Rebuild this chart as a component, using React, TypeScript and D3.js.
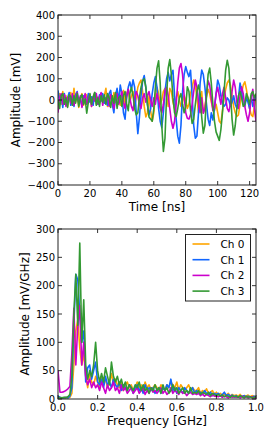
import React from "react";
import * as d3 from "d3";

// ---------- DATA ----------
const timeNs = d3.range(0, 125); // 0..124 ns
const ch0Time = [
  10, 30, -20, 40, -10, 20, -30, 15, 35, -20,
  55, -10, 20, -35, 10, 30, -25, 5, 25, -15,
  20, -30, 10, 35, -20, 15, -10, 30, 0, 20,
  55, -30, 10, 25, -20, 35, -10, 40, 10, -25,
  20, 45, -20, 30, 50, -10, 20, 40, -30, 10,
  60, 80, 94, 40, -30, -80, -60, 20, -50, -100,
  -60, 20, 60, 30, -20, 0, 40, 55, 20, -30,
  55, 40, -10, -40, 10, 40, 0, -30, -10, 20,
  0, -40, -20, 30, 60, 94, 70, 10, -60, -30,
  40, -62, -30, 20, 50, 30, -10, -40, -50, -20,
  -60, -100, -110, -50, 10, 50, 80, 94, 70, 20,
  -30, -60, -78, -70, -20, 30, 70, 86, 50, 0,
  -40, -70, -78, -30, 20,
];
const ch1Time = [
  45, -10, 20, -35, 30, -20, 10, 35, -25, 15,
  -30, 25, 40, -15, 5, -30, 20, 10, -20, 30,
  -10, 15, -25, 35, 0, -20, 25, -5, 30, -15,
  10, -25, 30, 45, -20, -60, 20, 55, -10, 70,
  30, -60, -90, 10, 60, 85, 50, 95, 60, -60,
  -158, -80, 20, 90, 115, 60, -20, -70, -40, 30,
  80, 110, 60, -40, -100, -130, -60, 40, 100, 130,
  90, 120, 140, 20, -90, -170, -203, -120, 40, 120,
  157, 130, 110, 140, 20, -120, -180, -170, -60, 80,
  141, 120, 60, -20, -90, -120, -60, -94, -40, 30,
  94, 70, 20, -10, -30, -20, 10, 0, -30, -10,
  20, -20, -40, 10, 80, 40, -20, -30, 10, -10,
  -40, 20, -30, 0, 20,
];
const ch2Time = [
  -60, 10, 30, -20, 25, -30, 10, 20, -15, 30,
  -25, 15, 35, -10, 20, -35, 5, 30, -20, 10,
  25, -30, 15, -5, 30, -20, 10, 35, -25, 15,
  -10, 20, -30, 25, 0, -40, 15, 30, -20, 10,
  40, -10, -40, 20, 50, 10, -30, -50, 10, 40,
  20, -20, -40, 10, 30, -10, 20, 40, 0, -30,
  10, -20, 30, 0, -40, -60, -20, 40, 60, 20,
  -40, -100, -133, -100, -20, 80, 150, 172, 120, 20,
  -60, -86, -90, -70, -20, 40, 94, 60, -10, -60,
  10, -62, -40, 20, 90, 70, 10, -50, -30, 30,
  60, 20, -20, 30, 60, 10, -40, -55, -20, 40,
  94, 60, -10, -40, 20, 62, 30, -30, -70, -100,
  -60, 10, 50, -40, -100,
];
const ch3Time = [
  0, -40, 20, 30, -20, 10, -35, 25, 15, -25,
  20, -15, 30, -30, 10, 25, -20, 5, -62, -10,
  30, -20, 15, 35, -25, 10, -30, 20, -10, 25,
  -20, 30, 10, -35, 20, -15, 35, -40, 10, 20,
  -30, 20, 40, -20, -50, 30, 60, 20, -40, -70,
  -60, 10, 60, 90, 100, 60, -20, -80, -90, -100,
  -40, 60, 150, 184, 80, -120, -242, -180, 20, 150,
  190, 120, 10, -60, -78, -40, 10, 30, -20, -60,
  -30, 62, 40, -50, -110, -90, -20, 40, 70, 30,
  -80, -156, -120, 20, 120, 150, 80, -20, -100, -150,
  -170, -190, -140, -60, 40, 140, 187, 150, 40, -90,
  -165, -120, -40, 20, 40, 10, -30, -20, 30, 10,
  -20, 30, 40, 10, 30,
];

const freqGHz = d3.range(0, 101).map((i) => i / 100);
const ch0Spec = [
  2, 3, 1, 2, 3, 2, 3, 10, 60, 120,
  140, 90, 60, 80, 40, 20, 45, 30, 25, 40,
  30, 20, 40, 25, 35, 20, 30, 45, 25, 35,
  25, 20, 30, 15, 25, 30, 20, 25, 15, 20,
  30, 20, 25, 15, 30, 20, 25, 15, 20, 25,
  20, 15, 25, 20, 15, 25, 20, 30, 25, 20,
  30, 15, 25, 20, 15, 20, 25, 15, 20, 15,
  15, 20, 10, 15, 12, 18, 10, 12, 15, 8,
  12, 8, 10, 6, 9, 7, 10, 5, 8, 6,
  7, 5, 8, 4, 6, 5, 7, 4, 6, 5, 3,
];
const ch1Spec = [
  5, 3, 2, 2, 3, 2, 5, 20, 130, 220,
  210, 150, 100, 120, 30, 55, 60, 35, 50, 65,
  30, 25, 35, 20, 40, 25, 30, 20, 35, 25,
  20, 30, 15, 25, 20, 15, 25, 20, 10, 20,
  25, 15, 20, 10, 25, 15, 20, 15, 20, 10,
  15, 20, 10, 20, 15, 25, 20, 35, 15, 20,
  10, 20, 15, 10, 20, 15, 10, 15, 20, 10,
  15, 10, 12, 8, 15, 10, 8, 12, 6, 10,
  8, 10, 5, 8, 12, 6, 8, 5, 7, 4,
  6, 3, 5, 4, 6, 3, 5, 4, 3, 5, 2,
];
const ch2Spec = [
  50, 12, 12, 13, 15, 18, 22, 80, 160, 60,
  130, 165, 60, 100, 40, 25, 35, 20, 30, 20,
  25, 15, 30, 20, 10, 25, 15, 20, 30, 15,
  20, 10, 25, 15, 20, 10, 15, 20, 10, 15,
  20, 10, 15, 20, 8, 15, 10, 20, 12, 15,
  10, 15, 20, 10, 15, 8, 12, 20, 10, 15,
  12, 8, 15, 10, 12, 6, 10, 12, 8, 10,
  8, 10, 6, 9, 5, 8, 6, 4, 7, 5,
  5, 4, 6, 3, 5, 4, 2, 5, 3, 4,
  3, 4, 2, 5, 3, 4, 2, 3, 4, 2, 3,
];
const ch3Spec = [
  3, 2, 2, 3, 2, 4, 8, 40, 150, 220,
  130, 275, 100, 175, 60, 35, 50, 40, 60, 100,
  50, 30, 45, 30, 55, 40, 25, 65, 40, 30,
  40, 25, 35, 20, 30, 15, 25, 20, 15, 25,
  20, 30, 15, 25, 15, 20, 10, 20, 15, 25,
  15, 20, 10, 25, 15, 20, 10, 15, 25, 15,
  20, 10, 15, 20, 10, 15, 10, 20, 10, 12,
  10, 15, 8, 12, 10, 8, 12, 6, 10, 8,
  6, 8, 5, 7, 4, 6, 5, 3, 6, 4,
  5, 3, 6, 4, 2, 5, 3, 4, 2, 3, 4,
];

const channelNames = ["Ch 0", "Ch 1", "Ch 2", "Ch 3"];
const channelColors = ["#ffa500", "#1166ff", "#cc00cc", "#339933"];
const timeSeries = [ch0Time, ch1Time, ch2Time, ch3Time];
const specSeries = [ch0Spec, ch1Spec, ch2Spec, ch3Spec];

const timeTicks = [0, 20, 40, 60, 80, 100, 120];
const mvTicks = [-400, -300, -200, -100, 0, 100, 200, 300, 400];
const freqTicks = [0, 0.2, 0.4, 0.6, 0.8, 1.0];
const specTicks = [0, 50, 100, 150, 200, 250, 300];

// ---------- LAYOUT ----------
const W = 274;
const H = 439;
const FONT = "'DejaVu Sans', sans-serif";
const X0 = 58;
const X1 = 256;
const TOP = { y0: 15, y1: 185 };
const BOT = { y0: 229, y1: 399 };
const TICK = 4;

const fmtMinus = (s: string) => s.replace("-", "\u2212");

function Frame({ x, y, xTicks, yTicks, xFmt, yFmt, y0, y1 }: any) {
  return (
    <g>
      {xTicks.map((t: number) => (
        <g key={"x" + t}>
          <line x1={x(t)} x2={x(t)} y1={y1} y2={y1 - TICK} stroke="#000" strokeWidth={0.8} />
          <line x1={x(t)} x2={x(t)} y1={y0} y2={y0 + TICK} stroke="#000" strokeWidth={0.8} />
          <text x={x(t)} y={y1 + 11.5} textAnchor="middle" fontSize={10} fontFamily={FONT}>
            {xFmt(t)}
          </text>
        </g>
      ))}
      {yTicks.map((t: number) => (
        <g key={"y" + t}>
          <line x1={X0} x2={X0 + TICK} y1={y(t)} y2={y(t)} stroke="#000" strokeWidth={0.8} />
          <line x1={X1} x2={X1 - TICK} y1={y(t)} y2={y(t)} stroke="#000" strokeWidth={0.8} />
          <text x={X0 - 3} y={y(t) + 3.6} textAnchor="end" fontSize={10} fontFamily={FONT}>
            {yFmt(t)}
          </text>
        </g>
      ))}
      <rect x={X0} y={y0} width={X1 - X0} height={y1 - y0} fill="none" stroke="#222" strokeWidth={1} />
    </g>
  );
}

export default function App() {
  const xt = d3.scaleLinear().domain([0, 124]).range([X0, X1]);
  const yt = d3.scaleLinear().domain([-400, 400]).range([TOP.y1, TOP.y0]);
  const xf = d3.scaleLinear().domain([0, 1]).range([X0, X1]);
  const yf = d3.scaleLinear().domain([0, 300]).range([BOT.y1, BOT.y0]);

  const lineT = (vals: number[]) =>
    d3.line<number>().x((_, i) => xt(timeNs[i])).y((v) => yt(v))(vals) || "";
  const lineF = (vals: number[]) =>
    d3.line<number>().x((_, i) => xf(freqGHz[i])).y((v) => yf(v))(vals) || "";

  const legX = 185.5;
  const legY = 234.5;

  return (
    <svg
      width={W}
      height={H}
      style={{ position: "absolute", left: 0, top: 0, background: "#fff" }}
    >
      <rect width={W} height={H} fill="#fff" />
      <defs>
        <clipPath id="clipTop">
          <rect x={X0} y={TOP.y0} width={X1 - X0} height={TOP.y1 - TOP.y0} />
        </clipPath>
        <clipPath id="clipBot">
          <rect x={X0} y={BOT.y0} width={X1 - X0} height={BOT.y1 - BOT.y0} />
        </clipPath>
      </defs>

      {/* top panel */}
      <g clipPath="url(#clipTop)">
        {timeSeries.map((s, i) => (
          <path key={i} d={lineT(s)} fill="none" stroke={channelColors[i]} strokeWidth={1.6} strokeLinejoin="round" />
        ))}
      </g>
      <Frame
        x={xt}
        y={yt}
        xTicks={timeTicks}
        yTicks={mvTicks}
        xFmt={(t: number) => String(t)}
        yFmt={(t: number) => fmtMinus(String(t))}
        y0={TOP.y0}
        y1={TOP.y1}
      />
      <text x={(X0 + X1) / 2} y={211} textAnchor="middle" fontSize={12} fontFamily={FONT}>
        Time [ns]
      </text>
      <text
        transform={`translate(20,${(TOP.y0 + TOP.y1) / 2}) rotate(-90)`}
        textAnchor="middle"
        fontSize={12}
        fontFamily={FONT}
      >
        Amplitude [mV]
      </text>

      {/* bottom panel */}
      <g clipPath="url(#clipBot)">
        {specSeries.map((s, i) => (
          <path key={i} d={lineF(s)} fill="none" stroke={channelColors[i]} strokeWidth={1.6} strokeLinejoin="round" />
        ))}
      </g>
      <Frame
        x={xf}
        y={yf}
        xTicks={freqTicks}
        yTicks={specTicks}
        xFmt={(t: number) => t.toFixed(1)}
        yFmt={(t: number) => String(t)}
        y0={BOT.y0}
        y1={BOT.y1}
      />
      <text x={(X0 + X1) / 2} y={425} textAnchor="middle" fontSize={12} fontFamily={FONT}>
        Frequency [GHz]
      </text>
      <text
        transform={`translate(29,${(BOT.y0 + BOT.y1) / 2}) rotate(-90)`}
        textAnchor="middle"
        fontSize={12}
        fontFamily={FONT}
      >
        Amplitude [mV/GHz]
      </text>

      {/* legend */}
      <rect x={legX} y={legY} width={65} height={66.5} fill="#fff" stroke="#222" strokeWidth={1} />
      {channelNames.map((name, i) => {
        const cy = 244 + i * 15.7;
        return (
          <g key={name}>
            <line x1={192.5} x2={209.5} y1={cy} y2={cy} stroke={channelColors[i]} strokeWidth={1.6} />
            <text x={220.5} y={cy + 3.8} fontSize={10.5} fontFamily={FONT}>
              {name}
            </text>
          </g>
        );
      })}
    </svg>
  );
}
